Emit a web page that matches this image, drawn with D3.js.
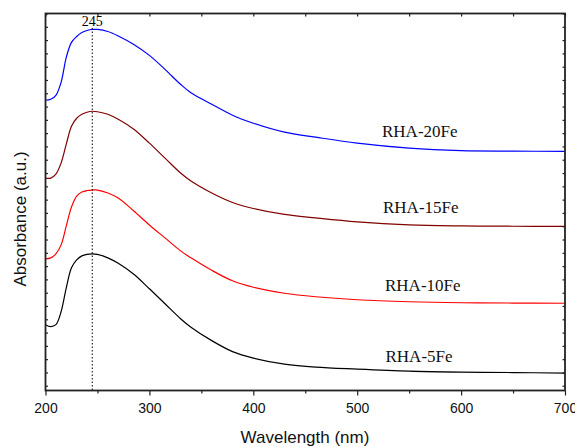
<!DOCTYPE html>
<html>
<head>
<meta charset="utf-8">
<script src="https://cdn.jsdelivr.net/npm/d3@7"></script>
<style>
  html, body { margin: 0; padding: 0; background: #fff; }
  svg { display: block; }
</style>
</head>
<body>
<svg id="chart" width="575" height="447"></svg>
<script>
// UV-Vis diffuse reflectance spectra of Fe-loaded rice husk ash samples
const wavelengths = [200, 205, 210, 215, 220, 225, 230, 235, 240, 245, 250, 260, 270, 285,
                     300, 315, 330, 340, 360, 380, 400, 430, 460, 500, 550, 600, 650, 700];

const absRHA20Fe = [2.91, 2.92, 2.96, 3.09, 3.34, 3.49, 3.55, 3.59, 3.61, 3.62, 3.62, 3.60, 3.555, 3.47,
                    3.36, 3.22, 3.07, 2.985, 2.87, 2.76, 2.68, 2.59, 2.54, 2.48, 2.43, 2.405, 2.40, 2.397];
const absRHA15Fe = [2.13, 2.13, 2.17, 2.28, 2.47, 2.65, 2.73, 2.77, 2.79, 2.80, 2.795, 2.77, 2.72, 2.62,
                    2.48, 2.33, 2.18, 2.10, 1.98, 1.885, 1.825, 1.765, 1.73, 1.69, 1.66, 1.65, 1.647, 1.645];
const absRHA10Fe = [1.32, 1.33, 1.37, 1.46, 1.65, 1.84, 1.95, 1.99, 2.005, 2.01, 2.01, 1.98, 1.93, 1.80,
                    1.66, 1.53, 1.40, 1.33, 1.205, 1.10, 1.035, 0.975, 0.94, 0.91, 0.89, 0.88, 0.877, 0.875];
const absRHA5Fe  = [0.66, 0.64, 0.66, 0.79, 1.03, 1.23, 1.31, 1.35, 1.365, 1.37, 1.365, 1.33, 1.275, 1.165,
                    1.02, 0.87, 0.72, 0.635, 0.50, 0.39, 0.325, 0.265, 0.235, 0.215, 0.195, 0.185, 0.18, 0.175];

const seriesNames  = ["RHA-20Fe", "RHA-15Fe", "RHA-10Fe", "RHA-5Fe"];
const seriesValues = [absRHA20Fe, absRHA15Fe, absRHA10Fe, absRHA5Fe];
const seriesColors = ["#0000ff", "#800000", "#ff0000", "#000000"];

const xTickLabels = [200, 300, 400, 500, 600, 700];
const xMinorTicks = [250, 350, 450, 550, 650];
const peakWavelength = 245;

const xDomain = [200, 700];
const yDomain = [0, 3.78];

const svg = d3.select("#chart");
const margin = { left: 45.5, right: 10, top: 13.5, bottom: 56.5 };
const W = 575, H = 447;
const x = d3.scaleLinear().domain(xDomain).range([margin.left, W - margin.right]);
const y = d3.scaleLinear().domain(yDomain).range([H - margin.bottom, margin.top]);

// unlabeled absorbance ticks, evenly spaced down from the top of the frame
const yTicks = d3.range(0, 29).map(i => yDomain[1] - i * 0.1333).filter(v => v > 0.02);

// spectra
const line = d3.line()
  .x((d, i) => x(wavelengths[i]))
  .y(d => y(d))
  .curve(d3.curveCatmullRom.alpha(0.5));

const plot = svg.append("g");
seriesValues.forEach((vals, k) => {
  plot.append("path")
    .datum(vals)
    .attr("d", line)
    .attr("fill", "none")
    .attr("stroke", seriesColors[k])
    .attr("stroke-width", 1.2);
});

// dotted marker at the absorption maximum
svg.append("line")
  .attr("x1", x(peakWavelength)).attr("x2", x(peakWavelength))
  .attr("y1", 28).attr("y2", y(0))
  .attr("stroke", "#000").attr("stroke-width", 1)
  .attr("stroke-dasharray", "1.5,2");

svg.append("text")
  .attr("x", x(peakWavelength)).attr("y", 26)
  .attr("text-anchor", "middle")
  .attr("font-family", "'Liberation Serif', 'Times New Roman', serif")
  .attr("font-size", 14)
  .text(peakWavelength);

// axes
const axisColor = "#222";
const axisBottomG = svg.append("g").attr("transform", `translate(0,${y(0)})`)
  .call(d3.axisBottom(x).tickValues(xTickLabels).tickSize(5).tickSizeOuter(0).tickFormat(d3.format("d")));
axisBottomG.append("g").call(d3.axisBottom(x).tickValues(xMinorTicks).tickSize(3).tickFormat(""));
axisBottomG.selectAll(".domain").remove();
axisBottomG.selectAll("line").attr("stroke", axisColor).attr("stroke-width", 1.2);
axisBottomG.selectAll("text")
  .attr("font-family", "'Liberation Sans', Arial, sans-serif")
  .attr("font-size", 14)
  .attr("fill", "#111")
  .attr("dy", null).attr("y", 22);

const axisTopG = svg.append("g").attr("transform", `translate(0,${y(yDomain[1])})`)
  .call(d3.axisBottom(x).tickValues(xTickLabels.concat(xMinorTicks)).tickSize(3).tickFormat(""));
axisTopG.selectAll(".domain").remove();
axisTopG.selectAll("line").attr("stroke", axisColor).attr("stroke-width", 1.2);

const axisLeftG = svg.append("g").attr("transform", `translate(${x(xDomain[0])},0)`)
  .call(d3.axisRight(y).tickValues(yTicks).tickSize(2.5).tickFormat(""));
axisLeftG.selectAll(".domain").remove();
axisLeftG.selectAll("line").attr("stroke", axisColor).attr("stroke-width", 1.2);

const axisRightG = svg.append("g").attr("transform", `translate(${x(xDomain[1])},0)`)
  .call(d3.axisLeft(y).tickValues(yTicks).tickSize(2.5).tickFormat(""));
axisRightG.selectAll(".domain").remove();
axisRightG.selectAll("line").attr("stroke", axisColor).attr("stroke-width", 1.2);

// frame
svg.append("rect")
  .attr("x", x(xDomain[0])).attr("y", y(yDomain[1]))
  .attr("width", x(xDomain[1]) - x(xDomain[0]))
  .attr("height", y(0) - y(yDomain[1]))
  .attr("fill", "none").attr("stroke", axisColor).attr("stroke-width", 1.8);

// series labels
const labelPos = [[382, 137], [383, 213], [385, 291], [385.5, 362]];
seriesNames.forEach((name, k) => {
  svg.append("text")
    .attr("x", labelPos[k][0]).attr("y", labelPos[k][1])
    .attr("font-family", "'Liberation Serif', 'Times New Roman', serif")
    .attr("font-size", 17)
    .attr("fill", "#111")
    .text(name);
});

// axis titles
svg.append("text")
  .attr("x", 305).attr("y", 443)
  .attr("text-anchor", "middle")
  .attr("font-family", "'Liberation Sans', Arial, sans-serif")
  .attr("font-size", 17)
  .attr("fill", "#111")
  .text("Wavelength (nm)");

svg.append("text")
  .attr("transform", "translate(26,219) rotate(-90)")
  .attr("text-anchor", "middle")
  .attr("font-family", "'Liberation Sans', Arial, sans-serif")
  .attr("font-size", 17)
  .attr("fill", "#111")
  .text("Absorbance (a.u.)");
</script>
</body>
</html>
